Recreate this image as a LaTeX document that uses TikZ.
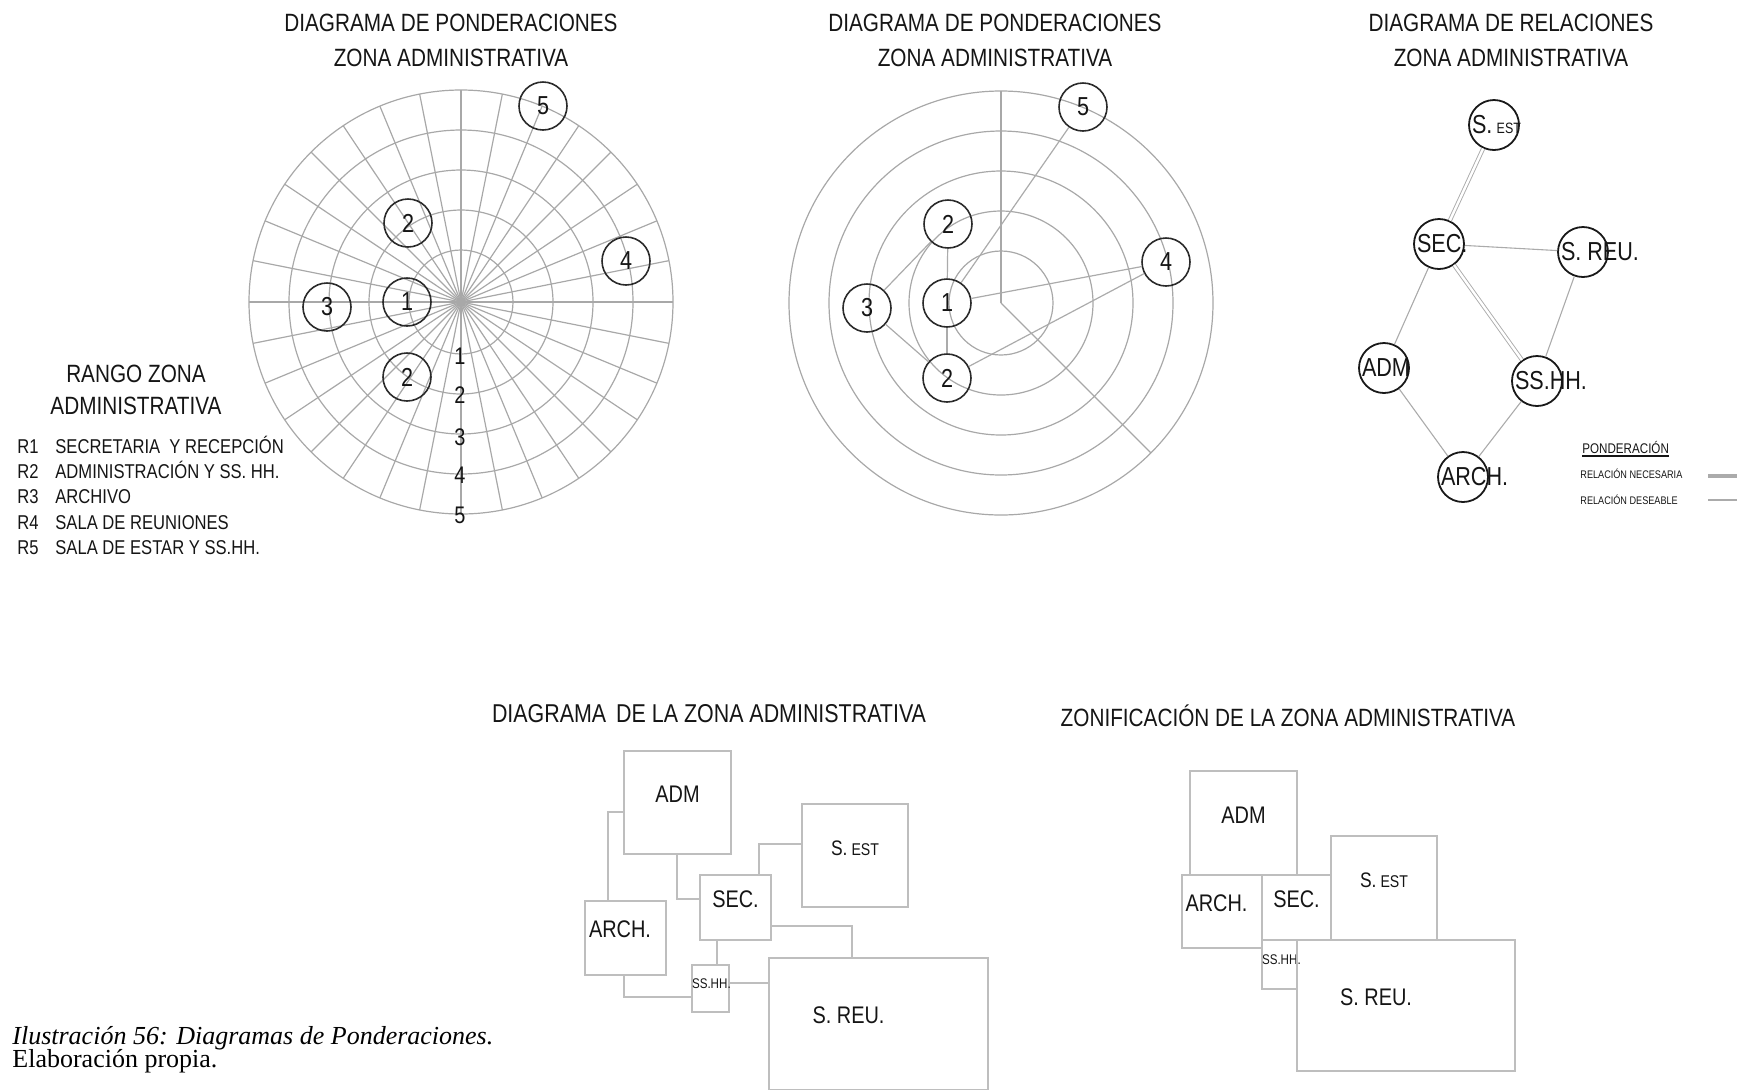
\documentclass[tikz,border=0pt]{standalone}
\usepackage{fontspec}
\setmainfont{Liberation Serif}
\newfontfamily\narrowsans[FakeStretch=0.83]{Liberation Sans}
\usepackage{xcolor}
\usepackage{tikz}
\usetikzlibrary{
  calc, fit,
  positioning
}
\definecolor{inkdark}  {HTML}{151515}
\definecolor{circleink}{HTML}{2A2A2A}
\definecolor{gridgray} {HTML}{A8A8A8}
\definecolor{linkgray} {HTML}{ABABAB}
\definecolor{boxgray}  {HTML}{BEBEBE}

% text that starts at the left rim of a relation circle
\newcommand{\reltxt}[1]{\hbox to 0pt{\hskip-11pt #1\hss}}

\tikzset{
  titletext/.style={
    inner sep=0pt, text=inkdark,
    font=\narrowsans\fontsize{12.5}{15}\selectfont
  },
  listtext/.style={
    inner sep=0pt, text=inkdark, anchor=base west,
    font=\narrowsans\fontsize{10}{12}\selectfont
  },
  ringline/.style={draw=gridgray, line width=0.6pt},
  ringnum/.style={
    inner sep=0pt, text=inkdark,
    font=\narrowsans\fontsize{12}{12}\selectfont
  },
  weightnode/.style={
    circle, minimum size=24pt, inner sep=0pt,
    draw=circleink, line width=0.8pt, text=inkdark,
    font=\narrowsans\fontsize{13}{13}\selectfont
  },
  weightlink/.style={draw=linkgray, line width=0.6pt},
  relnode/.style={
    circle, minimum size=25pt, inner sep=0pt,
    draw=black!90, line width=0.9pt, text=inkdark,
    font=\narrowsans\fontsize{13}{13}\selectfont
  },
  needed/.style={draw=linkgray, line width=0.45pt, double=white, double distance=1.2pt},
  desired/.style={draw=linkgray, line width=0.55pt},
  keytext/.style={
    inner sep=0pt, anchor=base west, text=inkdark,
    font=\narrowsans\fontsize{5.5}{6}\selectfont
  },
  zonebox/.style={
    rectangle, inner sep=0pt,
    draw=boxgray, line width=0.75pt, text=inkdark,
    font=\narrowsans\fontsize{12}{12}\selectfont
  },
  zonelink/.style={draw=boxgray, line width=0.75pt},
  captext/.style={inner sep=0pt, anchor=base west, font=\fontsize{13}{15}\selectfont}
}

\begin{document}
\begin{tikzpicture}[x=0.5pt, y=-0.5pt]
  \clip (0,0) rectangle (1742,1089);

  % titles
  \node[titletext] (t1a) at (451,23) {DIAGRAMA DE PONDERACIONES};
  \node[titletext, below=8pt of t1a] (t1b) {ZONA ADMINISTRATIVA};
  \node[titletext] (t2a) at (995,23) {DIAGRAMA DE PONDERACIONES};
  \node[titletext, below=8pt of t2a] (t2b) {ZONA ADMINISTRATIVA};
  \node[titletext] (t3a) at (1511,23) {DIAGRAMA DE RELACIONES};
  \node[titletext, below=8pt of t3a] (t3b) {ZONA ADMINISTRATIVA};
  \node[titletext, font=\narrowsans\fontsize{12.9}{15}\selectfont] (t4) at (709,714)
    {DIAGRAMA\hspace{5pt}DE LA ZONA ADMINISTRATIVA};
  \node[titletext] (t5) at (1288,716) {ZONIFICACIÓN DE LA ZONA ADMINISTRATIVA};

  % weighting radars
  \foreach \rd/\cx/\cy in {pa/461/302, pb/1001/303}{
    \coordinate (\rd-c) at (\cx,\cy);
    \foreach \r in {52,92,132,172,212}
      \draw[ringline] (\rd-c) circle[radius=\r];
  }
  \foreach \a in {0,11.25,...,349}
    \draw[ringline] (pa-c) -- ++(\a:212);
  \draw[ringline] (pb-c) -- ++(0,-212);
  \draw[ringline] (pb-c) -- ++(150,150);

  \foreach \rd in {pa, pb}
    \foreach \nm/\dx/\dy/\v in {n5/82/-196/5, n2u/-53/-79/2, n4/165/-41/4,
                                n3/-134/5/3, n1/-54/0/1, n2d/-54/75/2}
      \node[weightnode] (\rd-\nm) at ($(\rd-c)+(\dx,\dy)$) {\v};

  \foreach \v/\r in {1/54, 2/93, 3/135, 4/173, 5/213}
    \node[ringnum] (pa-r\v) at ($(pa-c)+(-1,\r)$) {\v};

  \foreach \a/\b in {n2u/n1, n1/n2d, n1/n4, n1/n5, n3/n2u, n3/n2d, n2d/n4}
    \draw[weightlink] (pb-\a) -- (pb-\b);

  % range legend
  \node[titletext] (rango) at (136,374) {RANGO ZONA};
  \node[titletext, below=6.5pt of rango] (rangob) {ADMINISTRATIVA};
  \foreach \k/\txt in {1/{SECRETARIA\ \ Y RECEPCIÓN}, 2/{ADMINISTRACIÓN Y SS. HH.},
                       3/ARCHIVO, 4/SALA DE REUNIONES, 5/{SALA DE ESTAR Y SS.HH.}}{
    \node[listtext] (rk\k) at (17,{428+25.3*\k}) {R\k};
    \node[listtext] (rt\k) at (55,{428+25.3*\k}) {\txt};
  }

  % relations diagram
  \node[relnode] (sest) at (1494,125) {\reltxt{S.\,{\fontsize{7.5}{8}\selectfont EST}}};
  \node[relnode] (sec)  at (1439,244) {\reltxt{SEC.}};
  \node[relnode] (sreu) at (1583,252) {\reltxt{S. REU.}};
  \node[relnode] (adm)  at (1384,368) {\reltxt{ADM}};
  \node[relnode] (sshh) at (1537,381) {\reltxt{SS.HH.}};
  \node[relnode] (arch) at (1463,477) {\reltxt{ARCH.}};
  \foreach \a/\b in {sest/sec, sec/sshh}
    \draw[needed] (\a) -- (\b);
  \foreach \a/\b in {sec/sreu, sec/adm, sreu/sshh, adm/arch, arch/sshh}
    \draw[desired] (\a) -- (\b);

  \node[keytext, font=\narrowsans\fontsize{7}{8}\selectfont] (ponder) at (1582,453) {PONDERACIÓN};
  \draw[draw=inkdark, line width=1pt]
    ([yshift=-1pt]ponder.south west) -- ([yshift=-1pt]ponder.south east);
  \node[keytext] (necesaria) at (1580,478) {RELACIÓN NECESARIA};
  \node[keytext] (deseable)  at (1580,504) {RELACIÓN DESEABLE};
  \draw[draw=linkgray, line width=1.6pt] (necesaria.base -| 1708,0) ++(0,-2) -- ++(29,0);
  \draw[desired] (deseable.base -| 1708,0) ++(0,-4) -- ++(29,0);

  % zone diagram
  \node[zonebox, fit={(624,751) (731,854)}]   (dadm)  {ADM};
  \node[zonebox, fit={(802,804) (908,907)}]   (dsest) {{\fontsize{10.5}{11}\selectfont S.}\,{\fontsize{8.5}{9}\selectfont EST}};
  \node[zonebox, fit={(700,875) (771,940)}]   (dsec)  {SEC.};
  \node[zonebox, fit={(585,901) (666,975)}]   (darch) {ARCH.\hspace*{5.5pt}};
  \node[zonebox, fit={(692,965) (729,1012)}]  (dsshh) {\fontsize{7}{7}\selectfont SS.HH.};
  \node[zonebox, fit={(769,958) (988,1090)}]  (dsreu) {S. REU.\hspace*{30pt}};

  \draw[zonelink] (dadm.west |- 0,812) -| (608,0 |- darch.north);
  \draw[zonelink] (677,0 |- dadm.south) |- (dsec.west |- 0,899);
  \draw[zonelink] (759,0 |- dsec.north) |- (dsest.west |- 0,844);
  \draw[zonelink] (dsec.east |- 0,926) -| (852,0 |- dsreu.north);
  \draw[zonelink] (717,0 |- dsec.south) -- (717,0 |- dsshh.north);
  \draw[zonelink] (dsshh.east |- 0,983) -- (dsreu.west |- 0,983);
  \draw[zonelink] (624,0 |- darch.south) |- (dsshh.west |- 0,997);

  % zoning
  \node[zonebox, fit={(1190,771) (1297,875)}]  (zadm)  {ADM};
  \node[zonebox, fit={(1182,875) (1262,948)}]  (zarch) {ARCH.\hspace*{5.5pt}};
  \node[zonebox, fit={(1262,875) (1331,940)}]  (zsec)  {SEC.};
  \node[zonebox, fit={(1331,836) (1437,940)}]  (zsest) {{\fontsize{10.5}{11}\selectfont S.}\,{\fontsize{8.5}{9}\selectfont EST}};
  \node[zonebox, fit={(1262,940) (1297,989)}]  (zsshh) {\fontsize{7}{7}\selectfont SS.HH.};
  \node[zonebox, fit={(1297,940) (1515,1071)}] (zsreu) {S. REU.\hspace*{30pt}};

  % caption
  \node[captext] (cap1) at (12,1044) {\itshape Ilustración 56: Diagramas de Ponderaciones.};
  \node[captext] (cap2) at (12,1067) {Elaboración propia.};

\end{tikzpicture}
\end{document}
